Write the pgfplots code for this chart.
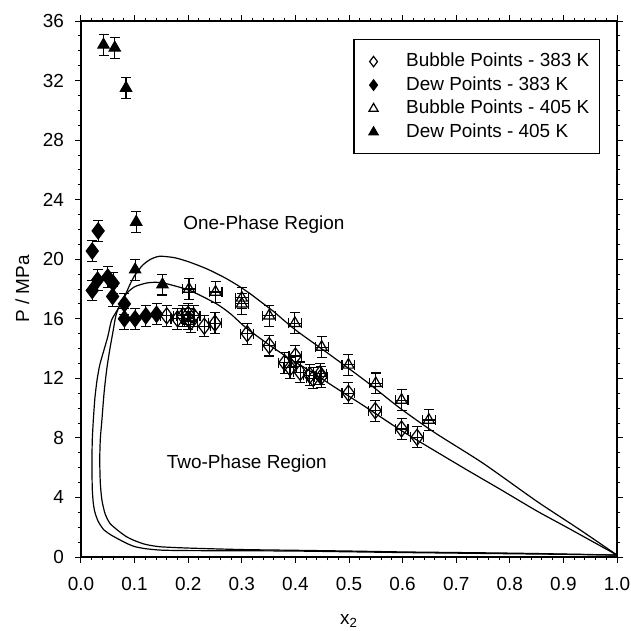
\documentclass[border=0pt]{standalone}
\usepackage{fontspec}
\setmainfont{Liberation Sans}
\usepackage{pgfplots}
\pgfplotsset{compat=1.18}

% bubble points carry x and y error bars, dew points only y
\pgfplotsset{
  bub/.style={only marks, mark options={fill=white, line width=0.6bp},
    error bars/x dir=both, error bars/x fixed=0.012,
    error bars/y dir=both, error bars/y fixed=0.7,
    error bars/error bar style={line width=0.55bp},
    error bars/error mark options={rotate=90, mark size=2.5bp, line width=0.55bp}},
  dew/.style={only marks, mark options={fill=black, line width=0.6bp},
    error bars/y dir=both, error bars/y fixed=0.7,
    error bars/error bar style={line width=0.55bp},
    error bars/error mark options={rotate=90, mark size=2.5bp, line width=0.55bp}},
}

\begin{document}
\begin{tikzpicture}
\begin{axis}[
  name=ax,
  width=268bp, height=268bp, scale only axis,
  xmin=0, xmax=1, ymin=0, ymax=36,
  xtick={0,0.1,0.2,0.3,0.4,0.5,0.6,0.7,0.8,0.9,1},
  ytick={0,4,8,12,16,20,24,28,32,36},
  minor x tick num=4, minor y tick num=3,
  tick align=outside,
  major tick length=3bp, minor tick length=1.7bp,
  axis line style={line width=0.65bp},
  every tick/.style={line width=0.5bp, black},
  xticklabel style={yshift=-3.5bp, /pgf/number format/.cd, fixed, fixed zerofill, precision=1},
  yticklabel style={xshift=-2bp},
  /pgf/number format/assume math mode=true,
  tick label style={font=\fontsize{9.5}{11}\selectfont},
  label style={font=\fontsize{9.5}{11}\selectfont},
  xlabel={x\textsubscript{2}},
  xlabel style={yshift=-5bp},
  ylabel={P / MPa},
  legend style={at={(rel axis cs:0.968,0.966)}, anchor=north east,
    draw=black, line width=0.6bp, inner xsep=5bp, inner ysep=5bp,
    row sep=0bp, column sep=6.5bp,
    font=\fontsize{9.5}{11}\selectfont,
    nodes={inner sep=0bp, minimum height=11.75bp, anchor=west}},
  legend image code/.code={\path (0bp,0bp) (14bp,0bp);
    \draw[#1, mark size=2.6bp] plot coordinates {(4.5bp,0bp)};},
]

\addplot[bub, mark=diamond, mark size=4bp] coordinates {
  (0.160,16.2) (0.180,16.0) (0.190,16.2) (0.200,16.3) (0.200,16.0)
  (0.205,15.8) (0.210,16.2) (0.230,15.5) (0.250,15.7) (0.310,15.0)
  (0.351,14.2) (0.380,13.05) (0.390,12.7) (0.400,13.5) (0.409,12.4)
  (0.427,12.2) (0.433,12.0) (0.446,12.3) (0.448,12.1) (0.499,11.0)
  (0.549,9.83) (0.598,8.6) (0.627,8.04)
};
\addlegendentry{Bubble Points - 383 K}

\addplot[dew, mark=diamond*, mark size=4bp] coordinates {
  (0.021,20.55) (0.032,21.9) (0.021,17.9) (0.031,18.6) (0.050,18.8)
  (0.060,18.4) (0.059,17.5) (0.081,17.0) (0.081,16.0) (0.101,16.0)
  (0.121,16.2) (0.141,16.3)
};
\addlegendentry{Dew Points - 383 K}

\addplot[bub, mark=triangle, mark size=3.2bp] coordinates {
  (0.2015,18.0) (0.251,17.8) (0.300,17.4) (0.300,17.0) (0.351,16.2)
  (0.399,15.7) (0.449,14.1) (0.499,12.9) (0.550,11.66) (0.598,10.54)
  (0.649,9.2)
};
\addlegendentry{Bubble Points - 405 K}

\addplot[dew, mark=triangle*, mark size=3.2bp] coordinates {
  (0.042,34.4) (0.063,34.2) (0.084,31.5) (0.103,22.5) (0.101,19.3)
  (0.152,18.3)
};
\addlegendentry{Dew Points - 405 K}

% phase envelopes
\addplot[black, line width=0.6bp, smooth, tension=0.4, forget plot] coordinates {
  (1.0,0.13) (0.9,0.18) (0.8,0.22) (0.7,0.26) (0.6,0.3) (0.5,0.35)
  (0.4,0.4) (0.3,0.42) (0.2,0.43) (0.15,0.46) (0.12,0.56) (0.1,0.7)
  (0.085,0.92) (0.07,1.2) (0.055,1.5) (0.042,1.85) (0.032,2.4)
  (0.026,3.0) (0.023,3.6) (0.021,4.6) (0.0205,6.3) (0.021,7.8)
  (0.023,9.2) (0.026,10.7) (0.030,11.9) (0.035,12.9) (0.042,13.8)
  (0.050,14.8) (0.057,15.9) (0.068,16.6) (0.079,17.3) (0.09,18.2)
  (0.1,18.9) (0.115,19.6) (0.13,20.0) (0.147,20.2) (0.175,20.1)
  (0.203,19.8) (0.235,19.35) (0.266,18.8) (0.29,18.3) (0.315,17.7)
  (0.337,17.1) (0.359,16.5) (0.38,15.85) (0.402,15.2) (0.427,14.55)
  (0.465,13.57) (0.53,11.85) (0.595,10.0) (0.66,8.35) (0.75,6.3)
  (0.85,3.75) (0.93,1.85) (1.0,0.13)
};
\addplot[black, line width=0.6bp, smooth, tension=0.4, forget plot] coordinates {
  (1.0,0.13) (0.9,0.2) (0.8,0.26) (0.7,0.3) (0.6,0.34) (0.5,0.4)
  (0.4,0.45) (0.3,0.5) (0.2,0.6) (0.147,0.69) (0.12,0.85) (0.1,1.1)
  (0.085,1.36) (0.07,1.75) (0.054,2.26) (0.045,2.9) (0.039,3.83)
  (0.036,5.0) (0.035,6.5) (0.036,7.9) (0.039,9.2) (0.043,11.0)
  (0.048,12.6) (0.054,14.0) (0.06,15.2) (0.065,16.2) (0.073,17.0)
  (0.085,17.7) (0.1,18.15) (0.122,18.4) (0.14,18.45) (0.16,18.35)
  (0.203,17.9) (0.253,17.0) (0.28,16.3) (0.309,15.36) (0.353,14.2)
  (0.39,13.3) (0.427,12.5) (0.465,11.6) (0.53,10.1) (0.595,8.55)
  (0.657,7.2) (0.72,5.85) (0.782,4.55) (0.85,3.1) (0.906,2.0) (1.0,0.13)
};

\node[anchor=west, font=\fontsize{9.5}{11}\selectfont] at (axis cs:0.178,22.3) {One-Phase Region};
\node[anchor=west, font=\fontsize{9.5}{11}\selectfont] at (axis cs:0.147,6.3) {Two-Phase Region};
\end{axis}
\pgfresetboundingbox
\path ([xshift=-40.5bp,yshift=-37bp]ax.south west) rectangle ([xshift=7bp,yshift=10.5bp]ax.north east);
\end{tikzpicture}
\end{document}
